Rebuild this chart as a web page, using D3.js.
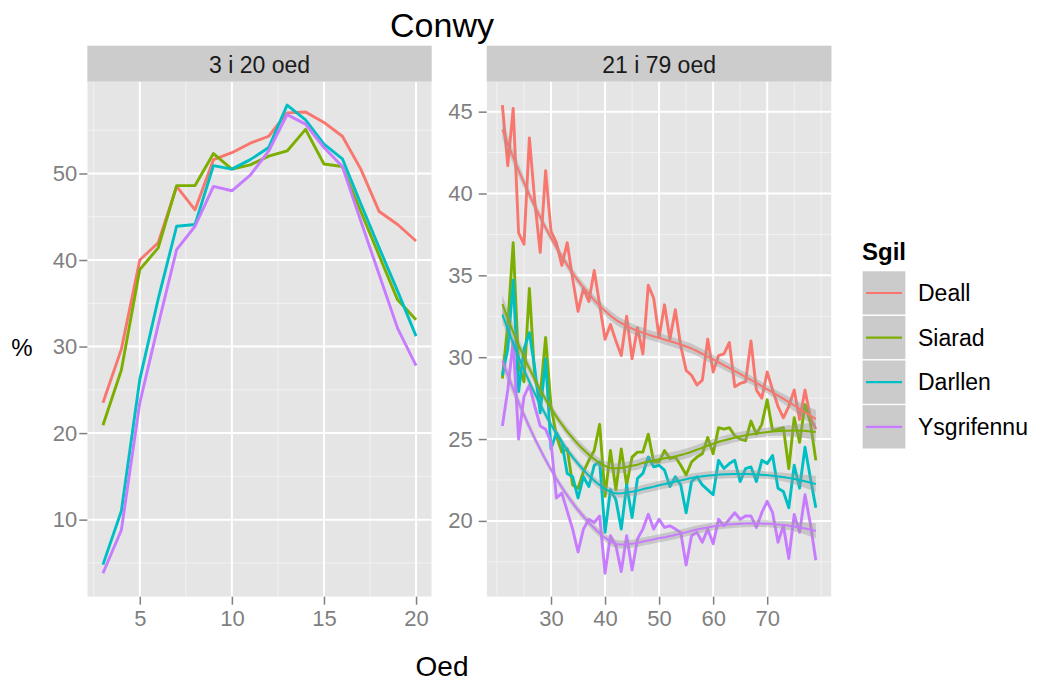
<!DOCTYPE html>
<html>
<head>
<meta charset="utf-8">
<script src="https://cdn.jsdelivr.net/npm/d3@7"></script>
<style>
  body { margin: 0; background: #fff; }
  svg text { font-family: "Liberation Sans", Arial, Helvetica, sans-serif; }
</style>
</head>
<body>
<svg id="chart" width="1041" height="682"></svg>
<script>
// ---------------- data ----------------
const title = "Conwy";
const xTitle = "Oed";
const yTitle = "%";
const legendTitle = "Sgil";
const skills = ["Deall", "Siarad", "Darllen", "Ysgrifennu"];
const colours = ["#F8766D", "#7CAE00", "#00BFC4", "#C77CFF"];
const panelLabels = ["3 i 20 oed", "21 i 79 oed"];

// Panel 1: ages 3..20
const ageYoung = [3,4,5,6,7,8,9,10,11,12,13,14,15,16,17,18,19,20];
const youngDeall      = [23.5,29.7,40.0,42.0,48.5,45.8,51.6,52.4,53.5,54.3,57.0,57.1,55.9,54.3,50.5,45.6,44.1,42.2];
const youngSiarad     = [20.9,27.3,38.9,41.4,48.6,48.6,52.3,50.5,51.0,52.0,52.6,55.1,51.1,50.8,45.6,40.5,35.4,33.1];
const youngDarllen    = [4.8,11.0,26.2,35.5,43.9,44.1,50.9,50.5,51.6,53.0,57.9,56.2,53.4,51.7,46.5,41.4,36.4,31.2];
const youngYsgrifennu = [3.8,8.8,23.5,32.5,41.2,43.9,48.5,48.0,49.8,52.6,56.8,55.7,53.0,50.8,44.5,38.3,32.1,27.8];

// Panel 2: ages 21..79
const ageAdult = [21,22,23,24,25,26,27,28,29,30,31,32,33,34,35,36,37,38,39,40,41,42,43,44,45,46,47,48,49,50,
                  51,52,53,54,55,56,57,58,59,60,61,62,63,64,65,66,67,68,69,70,71,72,73,74,75,76,77,78,79];
const adultDeall = [45.4,41.7,45.2,37.6,36.9,43.4,39.5,36.4,41.4,37.7,37.0,35.6,37.0,34.8,32.8,34.2,33.4,35.3,33.2,31.1,
                    32.0,31.0,30.1,32.5,29.9,31.8,30.2,34.4,33.6,31.2,33.2,31.1,32.9,30.7,29.2,28.9,28.3,28.6,31.1,29.1,
                    30.1,30.2,30.9,28.2,28.4,28.5,31.0,28.0,27.5,29.1,28.0,27.0,26.3,27.0,28.0,26.2,28.0,26.3,25.6];
const adultSiarad = [28.7,32.0,37.0,29.5,28.5,34.2,28.7,27.6,31.2,27.0,25.2,24.2,24.4,22.2,22.0,23.0,23.7,24.3,25.9,21.5,
                     24.3,21.9,24.4,22.2,23.9,24.2,24.2,25.3,23.6,23.6,24.3,23.8,23.9,23.4,22.8,23.6,23.9,24.1,25.1,24.1,
                     25.7,25.6,25.7,25.2,25.0,24.9,26.1,25.3,25.9,27.4,25.5,25.6,25.7,23.2,26.3,24.8,27.1,26.0,23.7];
const adultDarllen = [28.9,30.5,34.7,27.9,30.5,31.5,29.3,26.6,29.9,24.4,25.4,24.8,22.9,22.7,21.4,22.7,22.1,23.4,23.6,19.3,
                      21.9,21.3,19.5,22.2,20.2,22.6,22.9,23.9,23.3,23.4,23.1,22.1,22.7,22.2,20.5,22.4,22.7,22.2,21.9,21.6,
                      23.7,23.2,23.5,23.7,22.4,23.2,23.3,22.4,23.7,23.5,24.0,22.0,21.8,20.8,23.4,22.0,24.5,22.6,20.8];
const adultYsgrifennu = [25.8,28.0,31.0,25.0,27.6,28.3,27.0,25.8,25.6,24.8,21.4,21.7,20.6,19.5,18.1,19.5,20.1,19.9,20.3,16.8,
                         19.1,18.5,16.9,19.1,17.0,18.9,19.5,20.4,19.5,20.1,19.6,19.7,19.5,19.3,17.3,19.1,19.3,18.7,19.5,18.6,
                         20.1,19.7,20.1,20.5,20.1,20.3,20.3,19.6,20.5,21.2,20.5,18.7,19.7,17.7,20.4,19.3,21.6,19.8,17.6];

const yTicksYoung = [10,20,30,40,50];
const yMinorYoung = [5,15,25,35,45,55];
const xTicksYoung = [5,10,15,20];
const xMinorYoung = [2.5,7.5,12.5,17.5];
const yTicksAdult = [20,25,30,35,40,45];
const yMinorAdult = [17.5,22.5,27.5,32.5,37.5,42.5];
const xTicksAdult = [30,40,50,60,70];
const xMinorAdult = [20,25,35,45,55,65,75,80];

const youngSeries = [youngDeall, youngSiarad, youngDarllen, youngYsgrifennu];
const adultSeries = [adultDeall, adultSiarad, adultDarllen, adultYsgrifennu];

// ---------------- loess (span .75, degree 2, tricube) ----------------
function inv3(m) {
  const [a,b,c] = m[0], [d,e,f] = m[1], [g,h,i] = m[2];
  const A = e*i - f*h, B = -(d*i - f*g), C = d*h - e*g;
  const det = a*A + b*B + c*C;
  return [
    [A/det, -(b*i - c*h)/det, (b*f - c*e)/det],
    [B/det, (a*i - c*g)/det, -(a*f - c*d)/det],
    [C/det, -(a*h - b*g)/det, (a*e - b*d)/det]
  ];
}
function loessRow(xs, x0, span) {
  const n = xs.length, q = Math.floor(n * span);
  const d = xs.map(x => Math.abs(x - x0));
  const h = d.slice().sort((a, b) => a - b)[q - 1] * 1.0000001;
  const w = d.map(v => { const u = v / h; return u < 1 ? Math.pow(1 - u*u*u, 3) : 0; });
  const S = [[0,0,0],[0,0,0],[0,0,0]];
  xs.forEach((x, k) => {
    const t = x - x0, z = [1, t, t*t];
    for (let a = 0; a < 3; a++) for (let b = 0; b < 3; b++) S[a][b] += w[k] * z[a] * z[b];
  });
  const I = inv3(S);
  return xs.map((x, k) => { const t = x - x0; return w[k] * (I[0][0] + I[0][1]*t + I[0][2]*t*t); });
}
// band half-width multiplier on the standard error (narrow band as in the reference)
const bandMult = 0.7;
function loessSmooth(xs, ys, span, nEval) {
  const n = xs.length;
  const Lrows = xs.map(x => loessRow(xs, x, span));
  const fitted = Lrows.map(r => d3.sum(r, (l, k) => l * ys[k]));
  const rss = d3.sum(fitted, (f, k) => (ys[k] - f) ** 2);
  const trL = d3.sum(Lrows, (r, k) => r[k]);
  const trLL = d3.sum(Lrows, r => d3.sum(r, l => l*l));
  const oneDelta = n - 2*trL + trLL;
  const sigma = Math.sqrt(rss / oneDelta);
  const [lo, hi] = d3.extent(xs);
  return d3.range(nEval).map(j => {
    const x0 = lo + (hi - lo) * j / (nEval - 1);
    const r = loessRow(xs, x0, span);
    const y = d3.sum(r, (l, k) => l * ys[k]);
    const se = sigma * Math.sqrt(d3.sum(r, l => l*l));
    return { x: x0, y, lo: y - bandMult*se, hi: y + bandMult*se };
  });
}

// ---------------- layout ----------------
const svg = d3.select("#chart");
const panelTop = 81.7, panelBottom = 596.7, stripTop = 45.7;
const panels = [
  { left: 87.3, right: 431.7, ages: ageYoung, series: youngSeries, smooth: false, yPad: 2,
    yTicks: yTicksYoung, yMinor: yMinorYoung, xTicks: xTicksYoung, xMinor: xMinorYoung, label: panelLabels[0] },
  { left: 486.7, right: 831.5, ages: ageAdult, series: adultSeries, smooth: true, yPad: 6,
    yTicks: yTicksAdult, yMinor: yMinorAdult, xTicks: xTicksAdult, xMinor: xMinorAdult, label: panelLabels[1] }
];

function expand(ext) { const r = ext[1] - ext[0]; return [ext[0] - 0.05*r, ext[1] + 0.05*r]; }

panels.forEach((p, pi) => {
  const smooths = p.smooth ? p.series.map(s => loessSmooth(p.ages, s, 0.75, 80)) : null;
  const allY = p.series.flat().concat(smooths ? smooths.flatMap(s => s.flatMap(d => [d.lo, d.hi])) : []);
  const x = d3.scaleLinear().domain(expand(d3.extent(p.ages))).range([p.left, p.right]);
  const y = d3.scaleLinear().domain(expand(d3.extent(allY))).range([panelBottom, panelTop]);
  const w = p.right - p.left;

  const clipId = "clip" + pi;
  svg.append("clipPath").attr("id", clipId).append("rect")
    .attr("x", p.left).attr("y", panelTop).attr("width", w).attr("height", panelBottom - panelTop);

  // strip
  svg.append("rect").attr("x", p.left).attr("y", stripTop).attr("width", w).attr("height", panelTop - stripTop)
    .attr("fill", "#CCCCCC");
  svg.append("text").attr("x", (p.left + p.right) / 2).attr("y", 73.3).attr("text-anchor", "middle")
    .attr("font-size", 23).attr("fill", "#1A1A1A").text(p.label);

  const g = svg.append("g").attr("clip-path", `url(#${clipId})`);
  g.append("rect").attr("x", p.left).attr("y", panelTop).attr("width", w).attr("height", panelBottom - panelTop)
    .attr("fill", "#E5E5E5");
  // minor grid
  g.selectAll(null).data(p.yMinor).join("line")
    .attr("x1", p.left).attr("x2", p.right).attr("y1", d => y(d)).attr("y2", d => y(d))
    .attr("stroke", "#F2F2F2").attr("stroke-width", 1);
  g.selectAll(null).data(p.xMinor).join("line")
    .attr("y1", panelTop).attr("y2", panelBottom).attr("x1", d => x(d)).attr("x2", d => x(d))
    .attr("stroke", "#F2F2F2").attr("stroke-width", 1);
  // major grid
  g.selectAll(null).data(p.yTicks).join("line")
    .attr("x1", p.left).attr("x2", p.right).attr("y1", d => y(d)).attr("y2", d => y(d))
    .attr("stroke", "#FFFFFF").attr("stroke-width", 2);
  g.selectAll(null).data(p.xTicks).join("line")
    .attr("y1", panelTop).attr("y2", panelBottom).attr("x1", d => x(d)).attr("x2", d => x(d))
    .attr("stroke", "#FFFFFF").attr("stroke-width", 2);

  // raw lines
  const line = d3.line().x((d, i) => x(p.ages[i])).y(d => y(d));
  p.series.forEach((s, si) => {
    g.append("path").attr("d", line(s)).attr("fill", "none").attr("stroke", colours[si])
      .attr("stroke-width", 2.9).attr("stroke-linejoin", "round");
  });

  if (smooths) {
    const area = d3.area().x(d => x(d.x)).y0(d => y(d.lo)).y1(d => y(d.hi));
    smooths.forEach(sm => {
      g.append("path").attr("d", area(sm)).attr("fill", "#999999").attr("fill-opacity", 0.4);
    });
    const sline = d3.line().x(d => x(d.x)).y(d => y(d.y));
    smooths.forEach((sm, si) => {
      g.append("path").attr("d", sline(sm)).attr("fill", "none").attr("stroke", colours[si])
        .attr("stroke-width", 2);
    });
  }

  // axes
  const yAxis = svg.append("g").attr("transform", `translate(${p.left},0)`)
    .call(d3.axisLeft(y).tickValues(p.yTicks).tickSize(8).tickPadding(p.yPad).tickFormat(d3.format("d")));
  const xAxis = svg.append("g").attr("transform", `translate(0,${panelBottom})`)
    .call(d3.axisBottom(x).tickValues(p.xTicks).tickSize(8).tickPadding(6).tickFormat(d3.format("d")));
  [yAxis, xAxis].forEach(a => {
    a.select(".domain").remove();
    a.selectAll(".tick line").attr("stroke", "#7F7F7F").attr("stroke-width", 1.5);
    a.selectAll(".tick text").attr("fill", "#7F7F7F").attr("font-size", 22)
      .attr("font-family", "Liberation Sans, Arial, sans-serif");
  });
});

// titles
svg.append("text").attr("x", 442).attr("y", 37).attr("text-anchor", "middle")
  .attr("font-size", 34).attr("fill", "#000").text(title);
svg.append("text").attr("x", 442).attr("y", 676).attr("text-anchor", "middle")
  .attr("font-size", 28).attr("fill", "#000").text(xTitle);
svg.append("text").attr("x", 22).attr("y", 347).attr("text-anchor", "middle").attr("dominant-baseline", "central")
  .attr("font-size", 24).attr("fill", "#000").text(yTitle);

// legend
const lg = svg.append("g");
lg.append("text").attr("x", 862).attr("y", 260).attr("font-size", 24).attr("font-weight", "bold")
  .attr("fill", "#000").text(legendTitle);
const keyH = 44.6, keyTop = 270.7;
skills.forEach((s, i) => {
  const ky = keyTop + i * keyH;
  lg.append("rect").attr("x", 862).attr("y", ky).attr("width", 44).attr("height", keyH)
    .attr("fill", "#CBCBCB").attr("stroke", "#FFFFFF").attr("stroke-width", 1.2);
  lg.append("line").attr("x1", 866).attr("x2", 902).attr("y1", ky + keyH/2).attr("y2", ky + keyH/2)
    .attr("stroke", colours[i]).attr("stroke-width", 2.2);
  lg.append("text").attr("x", 918).attr("y", ky + keyH/2 + 8).attr("font-size", 23).attr("fill", "#000").text(s);
});
</script>
</body>
</html>
